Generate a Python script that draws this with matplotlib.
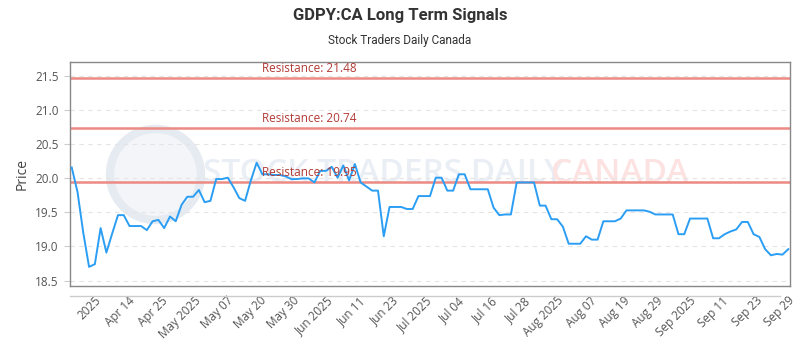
import matplotlib
matplotlib.use("Agg")
import matplotlib.pyplot as plt
import numpy as np

# closing prices (one per trading day)
prices = [
    20.16, 19.80, 19.20, 18.70, 18.74, 19.27, 18.91, 19.19, 19.46, 19.46,
    19.30, 19.30, 19.30, 19.24, 19.37, 19.39, 19.27, 19.44, 19.37, 19.61,
    19.73, 19.73, 19.83, 19.65, 19.67, 19.99, 19.99, 20.01, 19.87, 19.71,
    19.67, 19.97, 20.23, 20.06, 20.06, 20.05, 20.05, 20.03, 19.99, 19.99,
    20.00, 20.00, 19.94, 20.11, 20.11, 20.17, 20.01, 20.19, 19.97, 20.21,
    19.94, 19.88, 19.82, 19.82, 19.15, 19.58, 19.58, 19.58, 19.55, 19.55,
    19.74, 19.74, 19.74, 20.01, 20.01, 19.82, 19.82, 20.06, 20.06, 19.84,
    19.84, 19.84, 19.84, 19.57, 19.46, 19.47, 19.47, 19.94, 19.94, 19.94,
    19.94, 19.60, 19.60, 19.40, 19.40, 19.29, 19.04, 19.04, 19.04, 19.15,
    19.10, 19.10, 19.37, 19.37, 19.37, 19.41, 19.53, 19.53, 19.53, 19.53,
    19.51, 19.47, 19.47, 19.47, 19.47, 19.18, 19.18, 19.41, 19.41, 19.41,
    19.41, 19.12, 19.12, 19.18, 19.22, 19.25, 19.36, 19.36, 19.18, 19.14,
    18.96, 18.87, 18.89, 18.88, 18.96,
]

date_labels = [
    "2025", "Apr 14", "Apr 25", "May 2025", "May 07", "May 20", "May 30",
    "Jun 2025", "Jun 11", "Jun 23", "Jul 2025", "Jul 04", "Jul 16", "Jul 28",
    "Aug 2025", "Aug 07", "Aug 19", "Aug 29", "Sep 2025", "Sep 11", "Sep 23",
    "Sep 29",
]

resistance = [21.48, 20.74, 19.95]

fig = plt.figure(figsize=(8, 3.5), dpi=100)
ax = fig.add_axes([0.0875, 0.183, 0.9, 0.64])

x = np.arange(len(prices))
ax.plot(x, prices, color="#2b9ef4", lw=1.4, zorder=3)

for r in resistance:
    ax.axhline(r, color="#ec8a84", lw=1.8, zorder=2)
    ax.text(33, r + 0.04, "Resistance: %.2f" % r, color="#b23b35",
            fontsize=8.5, family="Open Sans", va="bottom", zorder=4)

# watermark (logo circle + name)
ax.scatter([0.118], [0.5], s=4300, transform=ax.transAxes, facecolor="#f3f5f9",
           edgecolor="#e6ebf2", linewidth=6, zorder=1)
ax.text(0.185, 0.5, "STOCK TRADERS DAILY", transform=ax.transAxes,
        fontsize=24, color="#eaeef5", ha="left", va="center", zorder=1,
        family="Open Sans", fontweight="semibold")
ax.text(0.668, 0.5, "CANADA", transform=ax.transAxes, fontsize=24,
        color="#fce3e2", ha="left", va="center", zorder=1, family="Open Sans",
        fontweight="semibold")

ax.set_xlim(-0.3, len(prices) - 0.7)
ax.set_ylim(18.42, 21.71)
ax.set_yticks(np.arange(18.5, 21.6, 0.5))
ax.set_yticklabels(["%.1f" % v for v in np.arange(18.5, 21.6, 0.5)])
ax.grid(axis="y", color="#e4e4e4", ls=(0, (4, 4)), lw=0.8)

ticks = np.linspace(4, len(prices) - 1, len(date_labels))
ax.set_xticks(ticks)
ax.set_xticklabels(date_labels, rotation=45, ha="right", rotation_mode="anchor")

for lab in ax.get_xticklabels() + ax.get_yticklabels():
    lab.set_family("Open Sans")
    lab.set_fontsize(8.5)
    lab.set_color("#555555")
ax.tick_params(axis="x", length=0, pad=6)
ax.tick_params(axis="y", length=4, color="#cccccc", pad=4)

for s in ax.spines.values():
    s.set_color("#888888")
    s.set_linewidth(1)

ax.set_ylabel("Price", fontsize=10, color="#444444", family="Open Sans")

fig.add_artist(plt.Line2D([0.0875, 0.975], [0.154, 0.154],
                          color="#cccccc", lw=1))

fig.text(0.5, 0.955, "GDPY:CA Long Term Signals", ha="center", va="center",
         fontsize=12, fontweight="bold", color="#333333", family="Roboto")
fig.text(0.5, 0.885, "Stock Traders Daily Canada", ha="center", va="center",
         fontsize=8.5, color="#333333", family="Roboto")

fig.savefig("out.png", dpi=100)
